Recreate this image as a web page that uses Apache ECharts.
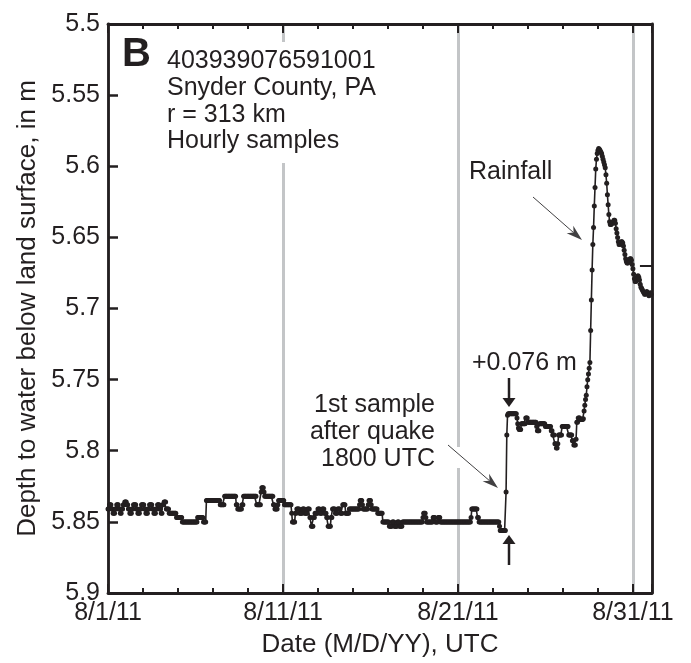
<!DOCTYPE html>
<html><head><meta charset="utf-8">
<script src="https://cdn.jsdelivr.net/npm/echarts@6/dist/echarts.min.js"></script>
<style>html,body{margin:0;padding:0;background:#fff}#c{width:691px;height:663px}</style>
</head><body><div id="c"></div>
<script>
// ---- data (hourly samples starting 2011-08-01 00:00 UTC) ----
const xTickDays = [0, 10, 20, 30];
const xTickLabels = ['8/1/11', '8/11/11', '8/21/11', '8/31/11'];
const yTickLabels = ['5.5', '5.55', '5.6', '5.65', '5.7', '5.75', '5.8', '5.85', '5.9'];

// run-length encoded hourly depths before the quake: [depth m, consecutive hourly samples]
const preQuakeRuns = [
  [5.841,2],[5.838,3],[5.841,2],[5.844,3],[5.841,2],
  [5.838,3],[5.841,2],[5.844,2],[5.841,2],[5.838,2],[5.836,3],
  [5.838,2],[5.841,2],[5.844,3],[5.841,2],
  [5.838,4],[5.841,2],[5.844,3],[5.841,2],
  [5.838,4],[5.841,2],[5.844,3],[5.841,2],
  [5.838,4],[5.841,2],[5.844,3],[5.841,2],
  [5.838,3],[5.841,2],[5.844,2],[5.838,2],[5.836,3],
  [5.841,4],[5.844,10],[5.847,8],[5.850,21],[5.847,8],[5.850,4],
  [5.835,19],[5.838,6],[5.832,16],[5.838,2],[5.841,6],[5.838,2],
  [5.832,18],[5.838,6],[5.829,1],[5.826,3],[5.829,1],[5.832,12],
  [5.838,2],[5.841,4],[5.838,1],[5.835,8],[5.838,10],
  [5.844,1],[5.850,4],[5.844,2],[5.841,4],
  [5.844,4],[5.841,3],[5.844,4],[5.841,3],
  [5.847,2],[5.853,3],[5.847,2],
  [5.844,4],[5.841,3],[5.844,3],[5.841,3],[5.844,3],
  [5.847,2],[5.853,4],[5.847,2],
  [5.841,4],[5.844,3],[5.841,4],[5.844,3],
  [5.838,4],[5.844,5],[5.841,14],
  [5.838,1],[5.835,3],[5.838,1],[5.841,7],
  [5.838,1],[5.835,3],[5.838,1],[5.841,8],
  [5.844,7],[5.850,9],
  [5.853,4],[5.850,3],[5.853,4],[5.850,3],[5.853,4],[5.850,3],
  [5.850,25],[5.847,1],[5.844,3],[5.847,1],[5.850,9],
  [5.847,3],[5.850,4],[5.847,3],[5.850,42],
  [5.847,1],[5.841,8],[5.847,2],[5.850,28],
  [5.853,1],[5.856,8]
];
// after the quake (first sample 8/23 1800 UTC)
const postQuakeRuns = [
  [5.829,1],[5.789,1],[5.775,1],[5.774,12],
  [5.777,1],[5.781,1],[5.784,1],[5.785,3],[5.781,6],[5.777,3],[5.780,12],
  [5.783,1],[5.786,3],[5.781,8],[5.783,8],[5.786,2],[5.789,3],
  [5.795,2],[5.798,2],[5.795,1],[5.789,5],[5.783,9],[5.789,5],
  [5.793,2],[5.796,3],[5.792,1],[5.780,2],[5.777,3],[5.778,4]
];
// rainfall rise, hourly
const rainRiseDepths = [5.7775,5.772,5.768,5.764,5.761,5.755,5.750,5.746,5.742,5.738,
  5.7155,5.694,5.673,5.655,5.643,5.628,5.615,5.602,5.595,5.591,5.589];
// recession after peak, hourly
const recessionDepths = [
  5.5876,5.588,5.589,5.590,5.591,5.593,5.595,5.597,5.599,5.601,
  5.606,5.612,5.620,5.627,5.634,5.639,5.641,5.641,5.640,5.640,
  5.639,5.638,5.638,5.640,5.644,5.647,5.650,5.653,5.655,5.655,
  5.654,5.653,5.653,5.654,5.656,5.659,5.662,5.665,5.667,5.668,
  5.668,5.667,5.666,5.665,5.665,5.666,5.669,5.672,5.676,5.679,
  5.681,5.681,5.679,5.678,5.677,5.678,5.680,5.683,5.685,5.686,
  5.687,5.688,5.689,5.690,5.690,5.689,5.688,5.689,5.690,5.691,
  5.690,5.689,5.690
];
const rightMarkDepth = [5.67];

// ---- build hourly series ----
const hourly = [];
function addRuns(runs){ runs.forEach(r => { for (let i = 0; i < r[1]; i++) hourly.push(r[0]); }); }
addRuns(preQuakeRuns);
addRuns(postQuakeRuns);
rainRiseDepths.forEach(v => hourly.push(v));
recessionDepths.forEach(v => hourly.push(v));
const points = hourly.map((v, h) => [h / 24, v]);

const FONT = '"Liberation Sans", Arial, Helvetica, sans-serif';
const INK = '#231f20';
const XMAX = 31.09;

function xLabel(v){ const i = xTickDays.findIndex(d => Math.abs(d - v) < 1e-6); return i < 0 ? '' : xTickLabels[i]; }
function yLabel(v){ const i = Math.round((v - 5.5) / 0.05); return (Math.abs(5.5 + i*0.05 - v) < 1e-6 && yTickLabels[i]) ? yTickLabels[i] : ''; }

function arrow(x1, y1, x2, y2, w, len, half, color, notch){
  const a = Math.atan2(y2 - y1, x2 - x1), c = Math.cos(a), s = Math.sin(a);
  const bx = x2 - c*len, by = y2 - s*len;
  const nx = x2 - c*len*(notch ? 0.7 : 1), ny = y2 - s*len*(notch ? 0.7 : 1);
  return [
    {type:'line', z:60, shape:{x1:x1, y1:y1, x2:nx, y2:ny}, style:{stroke:color, lineWidth:w}},
    {type:'polygon', z:60, shape:{points:[[x2,y2],[bx - s*half, by + c*half],[nx,ny],[bx + s*half, by - c*half]]}, style:{fill:color}}
  ];
}

const txt = (t, x, y, align, size, bold) => ({type:'text', z:60, x:x, y:y,
  style:{text:t, font:(bold?'bold ':'') + size + 'px ' + FONT, fill:INK, textAlign:align, textVerticalAlign:'middle'}});

const chart = echarts.init(document.getElementById('c'), null, {renderer:'canvas'});
const xBase = {type:'value', min:0, max:XMAX, gridIndex:0, splitLine:{show:false}, axisLabel:{show:false}, axisLine:{show:false}};
chart.setOption({
  animation:false,
  backgroundColor:'#fff',
  grid:{left:108, top:24, right:39, bottom:70, containLabel:false},
  xAxis:[
    Object.assign({}, xBase, {position:'bottom', interval:10,
      axisLine:{show:true, onZero:false, lineStyle:{color:INK, width:2.8}},
      axisTick:{show:true, inside:true, length:9, lineStyle:{color:INK, width:2}},
      axisLabel:{show:true, formatter:xLabel, margin:8, fontSize:25, color:INK, fontFamily:FONT},
      splitLine:{show:true, lineStyle:{color:'#c3c5c7', width:3}},
      name:'Date (M/D/YY), UTC', nameLocation:'middle', nameGap:39,
      nameTextStyle:{fontSize:26, color:INK, fontFamily:FONT}}),
    Object.assign({}, xBase, {position:'bottom', interval:2,
      axisTick:{show:true, inside:true, length:5, lineStyle:{color:INK, width:2}}}),
    Object.assign({}, xBase, {position:'top', interval:10,
      axisLine:{show:true, onZero:false, lineStyle:{color:INK, width:2.8}},
      axisTick:{show:true, inside:true, length:9, lineStyle:{color:INK, width:2}}}),
    Object.assign({}, xBase, {position:'top', interval:2,
      axisTick:{show:true, inside:true, length:5, lineStyle:{color:INK, width:2}}})
  ],
  yAxis:[
    {type:'value', min:5.5, max:5.9, interval:0.05, inverse:true, position:'left',
      axisLine:{show:true, onZero:false, lineStyle:{color:INK, width:2.8}},
      axisTick:{show:true, inside:true, length:10, lineStyle:{color:INK, width:2.5}},
      axisLabel:{formatter:yLabel, margin:8, fontSize:25, color:INK, fontFamily:FONT},
      splitLine:{show:false},
      name:'Depth to water below land surface, in m', nameLocation:'middle', nameGap:66, nameRotate:90,
      nameTextStyle:{fontSize:26, color:INK, fontFamily:FONT}},
    {type:'value', min:5.5, max:5.9, inverse:true, position:'right',
      axisLine:{show:true, onZero:false, lineStyle:{color:INK, width:2.8}},
      axisTick:{show:false}, axisLabel:{show:false}, splitLine:{show:false}}
  ],
  series:[{
    type:'line', xAxisIndex:0, yAxisIndex:0, data:points,
    symbol:'circle', symbolSize:5, showSymbol:true,
    itemStyle:{color:INK}, lineStyle:{color:INK, width:1.6},
    markLine:{silent:true, symbol:'none', label:{show:false},
      lineStyle:{color:INK, width:2, type:'solid'},
      data:[[{coord:[30.4, rightMarkDepth[0]]},{coord:[XMAX, rightMarkDepth[0]]}]]}
  }],
  graphic:[
    {type:'rect', z:55, shape:{x:278, y:42, width:12, height:121}, style:{fill:'#fff'}},
    {type:'rect', z:55, shape:{x:452, y:447, width:12, height:21}, style:{fill:'#fff'}},
    txt('B', 122, 55, 'left', 40, true),
    txt('403939076591001', 167, 61.5, 'left', 25),
    txt('Snyder County, PA', 167, 88.5, 'left', 25),
    txt('r = 313 km', 167, 115, 'left', 25),
    txt('Hourly samples', 167, 141, 'left', 25),
    txt('Rainfall', 469, 172.5, 'left', 25),
    txt('+0.076 m', 472, 363, 'left', 25),
    txt('1st sample', 435, 405, 'right', 25),
    txt('after quake', 435, 432, 'right', 25),
    txt('1800 UTC', 435, 459, 'right', 25),
    ...arrow(533, 197, 582, 240, 1, 16, 5, '#414042', true),
    ...arrow(448, 445, 498, 488, 1, 16, 5, '#414042', true),
    ...arrow(509, 378, 509, 407, 2.5, 9, 6.5, INK, false),
    ...arrow(509, 565, 509, 535, 2.5, 9, 6.5, INK, false)
  ]
});
</script></body></html>
